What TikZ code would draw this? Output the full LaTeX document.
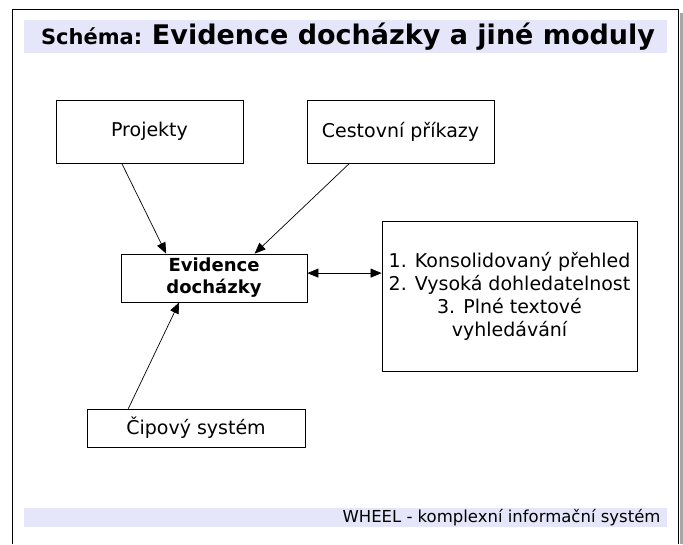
\documentclass[tikz,border=0pt]{standalone}
\usepackage{fontspec}
\setmainfont{DejaVu Sans}
\usepackage{tikz}
\usetikzlibrary{arrows.meta,shadows}

\definecolor{bandcol}{RGB}{230,230,250}

\begin{document}
\begin{tikzpicture}
  [x=1pt,y=-1pt,>={Triangle[length=11pt,width=9pt]},
   every node/.style={font=\fontsize{19}{23}\selectfont},
   box/.style={draw, line width=0.8pt, fill=white, align=center, inner sep=0pt,
     drop shadow={shadow xshift=1pt,shadow yshift=-1pt,fill=black!45,opacity=1}},
   link/.style={->, line width=0.7pt}]
  \useasboundingbox (0,0) rectangle (683,544);

  % slide frame
  \fill[black!35] (680,13) rectangle (683,544);
  \draw[line width=1.6pt] (12.5,544) -- (12.5,9.5) -- (678.5,9.5) -- (678.5,544);
  \fill[bandcol] (24,20) rectangle (667,53);
  \fill[bandcol] (24,508) rectangle (667,527);

  \node (title) at (348,37)
    {\fontsize{21}{24}\selectfont\bfseries Schéma: \fontsize{27}{30}\selectfont Evidence docházky a jiné moduly};
  \node[anchor=east] (foot) at (664,518)
    {\fontsize{16.5}{18}\selectfont WHEEL - komplexní informační systém};

  \node[box, minimum width=187pt, minimum height=63pt] (proj) at (149.5,131.5) {Projekty};
  \node[box, minimum width=187pt, minimum height=63pt] (cest) at (400.5,131.5) {Cestovní příkazy};
  \node[box, minimum width=186pt, minimum height=48pt, font=\fontsize{18}{22}\selectfont\bfseries] (evid) at (214,278) {Evidence\\docházky};
  \node[box, minimum width=255pt, minimum height=150pt] (vyh) at (509.5,296)
    {1. Konsolidovaný přehled\\2. Vysoká dohledatelnost\\3. Plné textové\\vyhledávání};
  \node[box, minimum width=218pt, minimum height=38pt] (cip) at (196,428) {Čipový systém};

  \foreach \from/\to in {proj.229/evid.153, cest.212/evid.31, cip.164/evid.215}
    \draw[link] (\from) -- (\to);
  \draw[<->, line width=0.7pt] (evid.3.7) -- (evid.3.7 -| vyh.west);

\end{tikzpicture}
\end{document}
